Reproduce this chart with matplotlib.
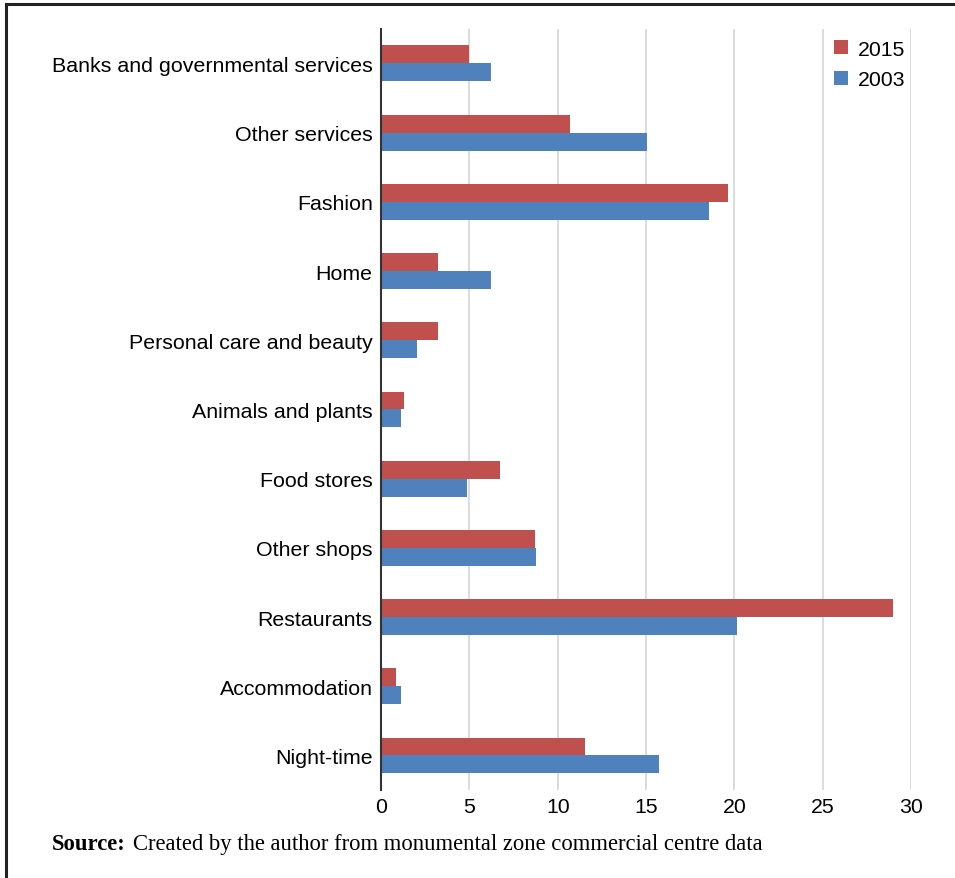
import numpy as np
import matplotlib.pyplot as plt
from matplotlib.lines import Line2D

#Kategorien und Werte
categories = ["Banks and governmental services", "Other services", "Fashion", "Home",
              "Personal care and beauty", "Animals and plants", "Food stores",
              "Other shops", "Restaurants", "Accommodation", "Night-time"]
vals_2015 = [5.0, 10.7, 19.65, 3.25, 3.25, 1.28, 6.75, 8.72, 29.0, 0.83, 11.55]
vals_2003 = [6.25, 15.05, 18.55, 6.25, 2.05, 1.13, 4.87, 8.79, 20.15, 1.13, 15.75]
xticks = [0, 5, 10, 15, 20, 25, 30]

red = "#C0504D"
blue = "#4F81BD"

plt.rcParams['font.family'] = ['Liberation Sans', 'DejaVu Sans']

fig = plt.figure(figsize=(9.55, 8.79), dpi=100)
ax = fig.add_axes([0.399, 0.1, 0.555, 0.866])

y = np.arange(len(categories))
h = 0.26
ax.barh(y - h/2, vals_2015, height=h, color=red, label="2015", zorder=3)
ax.barh(y + h/2, vals_2003, height=h, color=blue, label="2003", zorder=3)

ax.set_ylim(len(categories) - 0.5, -0.5)
ax.set_xlim(0, 30)
ax.set_yticks(y)
ax.set_yticklabels(categories, fontsize=15.4)
ax.set_xticks(xticks)
ax.set_xticklabels([str(t) for t in xticks], fontsize=15.3)
ax.tick_params(axis='y', length=0, pad=6)
ax.tick_params(axis='x', length=0, pad=5)

#Gitter
ax.grid(axis='x', color="#D9D9D9", linewidth=1.3, zorder=0)
for s in ['top', 'right', 'bottom']:
    ax.spines[s].set_visible(False)
ax.spines['left'].set_color("#333333")
ax.spines['left'].set_linewidth(1.5)
ax.spines['left'].set_zorder(4)

#Legende
ax.legend(loc='upper right', bbox_to_anchor=(1.005, 0.997), fontsize=15.3, frameon=False,
          handlelength=0.65, handleheight=0.65, handletextpad=0.45, labelspacing=0.55,
          borderaxespad=0)

#Quelle
fig.text(0.054, 0.039, "Source:", fontsize=16.3, fontweight='bold', family='Liberation Serif',
         va='center', ha='left')
fig.text(0.139, 0.039, "Created by the author from monumental zone commercial centre data",
         fontsize=16.3, family='Liberation Serif', va='center', ha='left')

#Rahmen
fig.add_artist(Line2D([0.0063, 0.0063], [0, 0.994], transform=fig.transFigure,
                      color="#222222", linewidth=2.2))
fig.add_artist(Line2D([0.0063, 1.0], [0.994, 0.994], transform=fig.transFigure,
                      color="#222222", linewidth=2.2))

fig.savefig("out.png", dpi=100)
